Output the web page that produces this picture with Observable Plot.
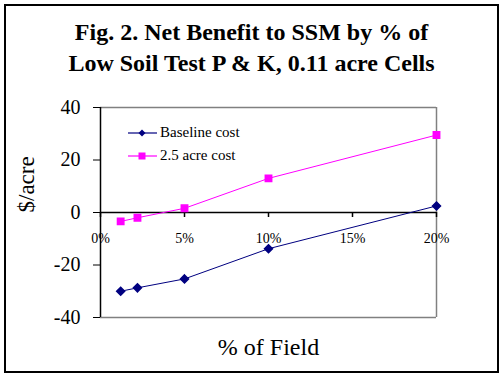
<!DOCTYPE html>
<html>
<head>
<meta charset="utf-8">
<script src="https://cdn.jsdelivr.net/npm/d3@7"></script>
<script src="https://cdn.jsdelivr.net/npm/@observablehq/plot@0.6"></script>
<style>
  html, body { margin: 0; padding: 0; background: #fff; }
  #wrap { position: relative; width: 503px; height: 376px; overflow: hidden; font-family: "Liberation Serif", "Times New Roman", serif; }
  #frame { position: absolute; left: 4px; top: 4px; width: 491px; height: 365px; border: 2px solid #000; pointer-events: none; }
  #title { position: absolute; left: 0; top: 17px; width: 503px; text-align: center; font-weight: bold; font-size: 24px; line-height: 31px; color: #000; }
  #legend { position: absolute; left: 128px; top: 121px; font-size: 15px; color: #000; }
  #legend .row { display: flex; align-items: center; height: 23px; }
  #legend svg { margin-right: 3px; }
  #chart { position: absolute; left: 0; top: 0; }
  #chart svg, #chart svg text { font-family: "Liberation Serif", "Times New Roman", serif !important; }
</style>
</head>
<body>
<div id="wrap">
  <div id="chart"></div>
  <div id="title">Fig. 2. Net Benefit to SSM by % of<br>Low Soil Test P &amp; K, 0.11 acre Cells</div>
  <div id="legend"></div>
  <div id="frame"></div>
</div>
<script>
// Data
const pctField = [1.2, 2.2, 5, 10, 20];
const baselineCost = [-30.0, -28.7, -25.3, -13.8, 2.5];
const acreCost25 = [-3.4, -2.0, 1.6, 13.0, 29.5];
const seriesNames = ["Baseline cost", "2.5 acre cost"];
const seriesColors = ["#000080", "#FF00FF"];
const xTicks = [0, 5, 10, 15, 20];
const yTicks = [-40, -20, 0, 20, 40];

const rows = [];
pctField.forEach((p, i) => {
  rows.push({pct: p, value: baselineCost[i], series: seriesNames[0]});
  rows.push({pct: p, value: acreCost25[i], series: seriesNames[1]});
});
const base = rows.filter(d => d.series === seriesNames[0]);
const alt = rows.filter(d => d.series === seriesNames[1]);
const font = "Liberation Serif";

const chart = Plot.plot({
  width: 503,
  height: 376,
  marginLeft: 100,
  marginRight: 67,
  marginTop: 107,
  marginBottom: 59,
  style: {fontFamily: font, background: "transparent", color: "#000"},
  x: {domain: [0, 20], label: null, axis: null},
  y: {domain: [-40, 40], label: null},
  marks: [
    // plot area frame (gray top, right, bottom)
    Plot.ruleY([40], {stroke: "#808080", strokeWidth: 1.5}),
    Plot.ruleY([-40], {stroke: "#808080", strokeWidth: 1.5}),
    Plot.ruleX([20], {stroke: "#808080", strokeWidth: 1.5}),
    // y axis
    Plot.axisY({ticks: yTicks, tickSize: 7, tickPadding: 13, fontSize: 20, fontFamily: font, tickFormat: d => d, label: null, stroke: "#000"}),
    Plot.ruleX([0], {stroke: "#000", strokeWidth: 1.5}),
    // x axis along y = 0
    Plot.ruleY([0], {stroke: "#000", strokeWidth: 1.5}),
    Plot.ruleX(xTicks, {x: d => d, y1: 0, y2: -1.9, stroke: "#000", strokeWidth: 1.5}),
    Plot.text(xTicks, {x: d => d, y: 0, text: d => d + "%", dy: 26, fontSize: 14, fontFamily: font, fill: "#000"}),
    // series
    Plot.line(base, {x: "pct", y: "value", stroke: seriesColors[0], strokeWidth: 1}),
    Plot.dot(base, {x: "pct", y: "value", symbol: "diamond2", r: 3.6, fill: seriesColors[0], stroke: seriesColors[0]}),
    Plot.line(alt, {x: "pct", y: "value", stroke: seriesColors[1], strokeWidth: 1}),
    Plot.dot(alt, {x: "pct", y: "value", symbol: "square", r: 3.6, fill: seriesColors[1], stroke: seriesColors[1]}),
    // axis titles
    Plot.text(["$/acre"], {frameAnchor: "left", dx: -74, rotate: -90, fontSize: 23, fontFamily: font, fill: "#000"}),
    Plot.text(["% of Field"], {frameAnchor: "bottom", dy: 37, fontSize: 24, fontFamily: font, fill: "#000"})
  ]
});
document.getElementById("chart").appendChild(chart);

// legend
const legend = document.getElementById("legend");
seriesNames.forEach((name, i) => {
  const row = document.createElement("div");
  row.className = "row";
  const marker = i === 0
    ? `<path d="M14,5.5 L17.5,9 L14,12.5 L10.5,9 Z" fill="${seriesColors[i]}"/>`
    : `<rect x="10.5" y="5.5" width="7" height="7" fill="${seriesColors[i]}"/>`;
  row.innerHTML = `<svg width="29" height="18"><line x1="0" x2="29" y1="9" y2="9" stroke="${seriesColors[i]}" stroke-width="1.2"/>${marker}</svg><span>${name}</span>`;
  legend.appendChild(row);
});
</script>
</body>
</html>
